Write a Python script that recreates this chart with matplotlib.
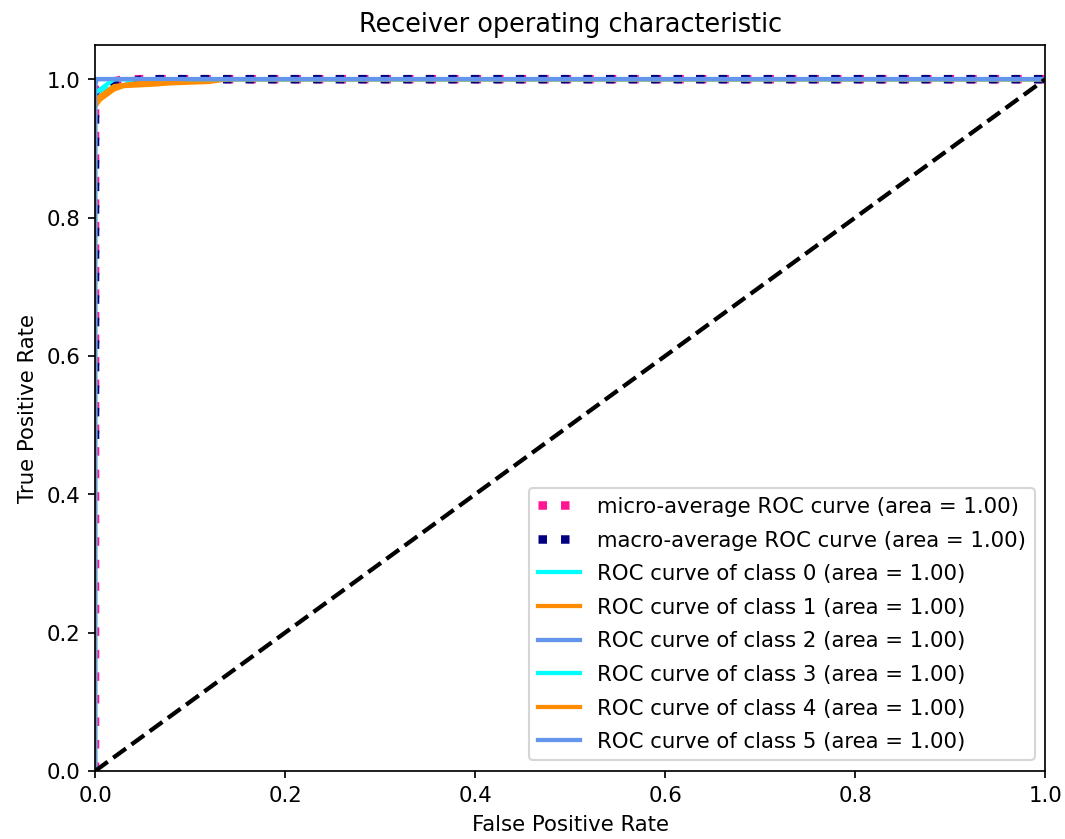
import matplotlib
matplotlib.use("Agg")
import matplotlib.pyplot as plt

micro_fpr = [0.0, 0.0, 0.004, 0.015, 0.03, 1.0]
micro_tpr = [0.0, 0.975, 0.985, 0.995, 1.0, 1.0]
macro_fpr = [0.0, 0.0, 0.005, 0.02, 0.05, 1.0]
macro_tpr = [0.48, 0.97, 0.98, 0.99, 1.0, 1.0]

class_fpr = [
    [0.0, 0.0, 0.005, 0.01, 0.03, 0.04, 1.0],
    [0.0, 0.0, 0.005, 0.01, 0.02, 0.03, 0.06, 0.08, 0.12, 0.14, 1.0],
    [0.0, 0.0, 0.002, 1.0],
    [0.0, 0.0, 0.01, 0.02, 1.0],
    [0.0, 0.0, 0.01, 0.02, 0.05, 0.1, 1.0],
    [0.0, 0.0, 1.0],
]
class_tpr = [
    [0.0, 0.97, 0.975, 0.985, 0.99, 1.0, 1.0],
    [0.0, 0.96, 0.97, 0.975, 0.985, 0.99, 0.992, 0.994, 0.996, 1.0, 1.0],
    [0.0, 0.99, 1.0, 1.0],
    [0.0, 0.98, 0.99, 1.0, 1.0],
    [0.0, 0.97, 0.98, 0.99, 0.995, 1.0, 1.0],
    [0.0, 1.0, 1.0],
]
class_auc = [1.00, 1.00, 1.00, 1.00, 1.00, 1.00]
micro_auc = 1.00
macro_auc = 1.00
colors = ['aqua', 'darkorange', 'cornflowerblue']

DPI = 153
fig = plt.figure(figsize=(1065.4 / DPI, 839.4 / DPI), dpi=DPI)
ax = fig.add_axes([0.0892, 0.0810, 0.9812 - 0.0892, 0.9464 - 0.0810])

ax.plot(micro_fpr, micro_tpr,
        label='micro-average ROC curve (area = {0:0.2f})'.format(micro_auc),
        color='deeppink', linestyle=':', linewidth=4)
ax.plot(macro_fpr, macro_tpr,
        label='macro-average ROC curve (area = {0:0.2f})'.format(macro_auc),
        color='navy', linestyle=':', linewidth=4)
for i in range(len(class_fpr)):
    ax.plot(class_fpr[i], class_tpr[i], color=colors[i % 3], lw=2,
            label='ROC curve of class {0} (area = {1:0.2f})'.format(i, class_auc[i]))

ax.plot([0, 1], [0, 1], 'k--', lw=2)
ax.set_xlim([0.0, 1.0])
ax.set_ylim([0.0, 1.05])
ax.set_xlabel('False Positive Rate')
ax.set_ylabel('True Positive Rate')
ax.set_title('Receiver operating characteristic')
ax.legend(loc="lower right", labelspacing=0.64)
fig.savefig('out.png', dpi=DPI)
